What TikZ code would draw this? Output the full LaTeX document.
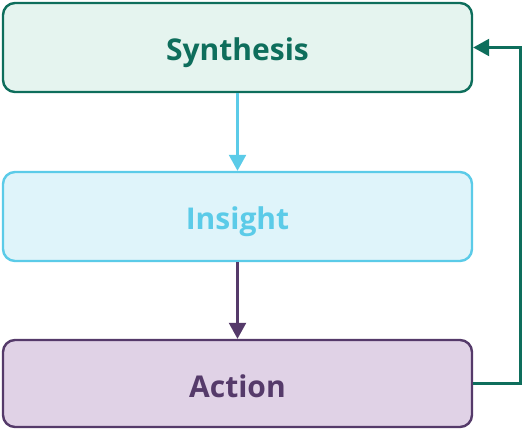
\documentclass[tikz,border=0pt]{standalone}
\usepackage{fontspec}
\setmainfont{Open Sans}
\usetikzlibrary{arrows.meta}
\definecolor{synS}{HTML}{0E6E5C}
\definecolor{synF}{HTML}{E5F4EF}
\definecolor{insS}{HTML}{5BCBE8}
\definecolor{insF}{HTML}{DFF4FA}
\definecolor{actS}{HTML}{553A6A}
\definecolor{actF}{HTML}{E0D2E6}
\tikzset{
  box/.style={rounded corners=12pt, line width=2.4pt, minimum width=469pt, inner sep=0pt},
  lbl/.style={font=\fontsize{30}{34}\selectfont\bfseries, anchor=base},
  conn/.style={line width=2.4pt, -{Triangle[width=17pt,length=16pt]}},
}
\begin{document}
\begin{tikzpicture}[x=1pt,y=-1pt]
\useasboundingbox (0,0) rectangle (524,428);
\node[box, draw=synS, fill=synF, minimum height=89pt] (syn) at (237.5,47.5) {};
\node[box, draw=insS, fill=insF, minimum height=89pt] (ins) at (237.5,216.5) {};
\node[box, draw=actS, fill=actF, minimum height=87pt] (act) at (237.5,383.5) {};
\node[lbl, text=synS] (synt) at (237.5,60) {Synthesis};
\node[lbl, text=insS] (inst) at (237.5,229) {Insight};
\node[lbl, text=actS] (actt) at (237.5,397) {Action};
\draw[conn, draw=insS] (syn.south) -- (ins.north);
\draw[conn, draw=actS] (ins.south) -- (act.north);
\coordinate (c1) at (520.5,383.5);
\coordinate (c2) at (520.5,47.5);
\draw[conn, draw=synS] (act.east) -- (c1) -- (c2) -- (syn.east);
\end{tikzpicture}
\end{document}
